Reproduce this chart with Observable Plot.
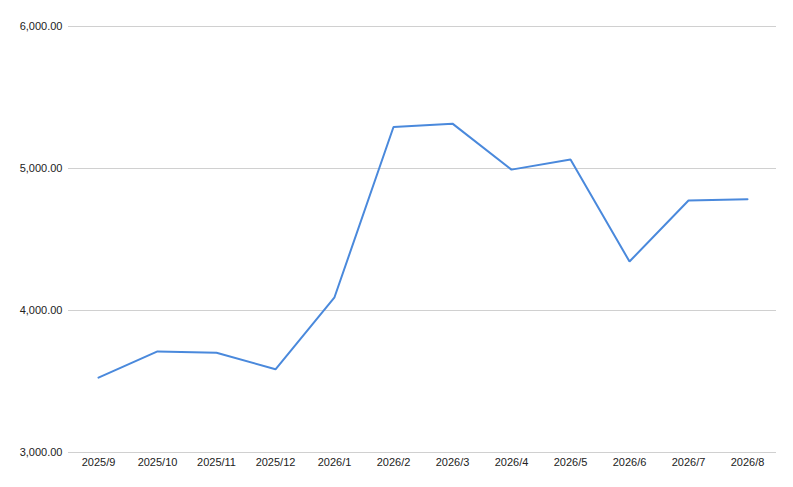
<!DOCTYPE html>
<html>
<head>
<meta charset="utf-8">
<script src="https://cdn.jsdelivr.net/npm/d3@7"></script>
<script src="https://cdn.jsdelivr.net/npm/@observablehq/plot@0.6"></script>
<style>
  html, body { margin: 0; padding: 0; background: #fff; }
  #chart svg { display: block; }
</style>
</head>
<body>
<div id="chart"></div>
<script>
const months = ["2025/9", "2025/10", "2025/11", "2025/12", "2026/1", "2026/2", "2026/3", "2026/4", "2026/5", "2026/6", "2026/7", "2026/8"];
const values = [3527, 3712, 3703, 3586, 4093, 5292, 5316, 4992, 5063, 4345, 4775, 4784];
const yTicks = [3000, 4000, 5000, 6000];

const data = months.map((m, i) => ({month: m, value: values[i]}));

const chart = Plot.plot({
  width: 793,
  height: 487,
  marginLeft: 68,
  marginRight: 17,
  marginTop: 26,
  marginBottom: 35,
  style: {fontFamily: "Liberation Sans, Arial, sans-serif", fontSize: "11px", color: "#222", background: "#fff"},
  x: {type: "point", domain: months, padding: 0.5, label: null},
  y: {domain: [3000, 6000], label: null},
  marks: [
    Plot.ruleY(yTicks, {stroke: "#d0d0d0", strokeWidth: 1}),
    Plot.axisY(yTicks, {tickSize: 0, tickPadding: 6, tickFormat: d3.format(",.2f"), label: null, fill: "#222"}),
    Plot.axisX(months, {tickSize: 0, tickPadding: 6, label: null, fill: "#222"}),
    Plot.line(data, {x: "month", y: "value", stroke: "#4a89dc", strokeWidth: 2, strokeLinejoin: "miter"})
  ]
});
document.getElementById("chart").appendChild(chart);
</script>
</body>
</html>
